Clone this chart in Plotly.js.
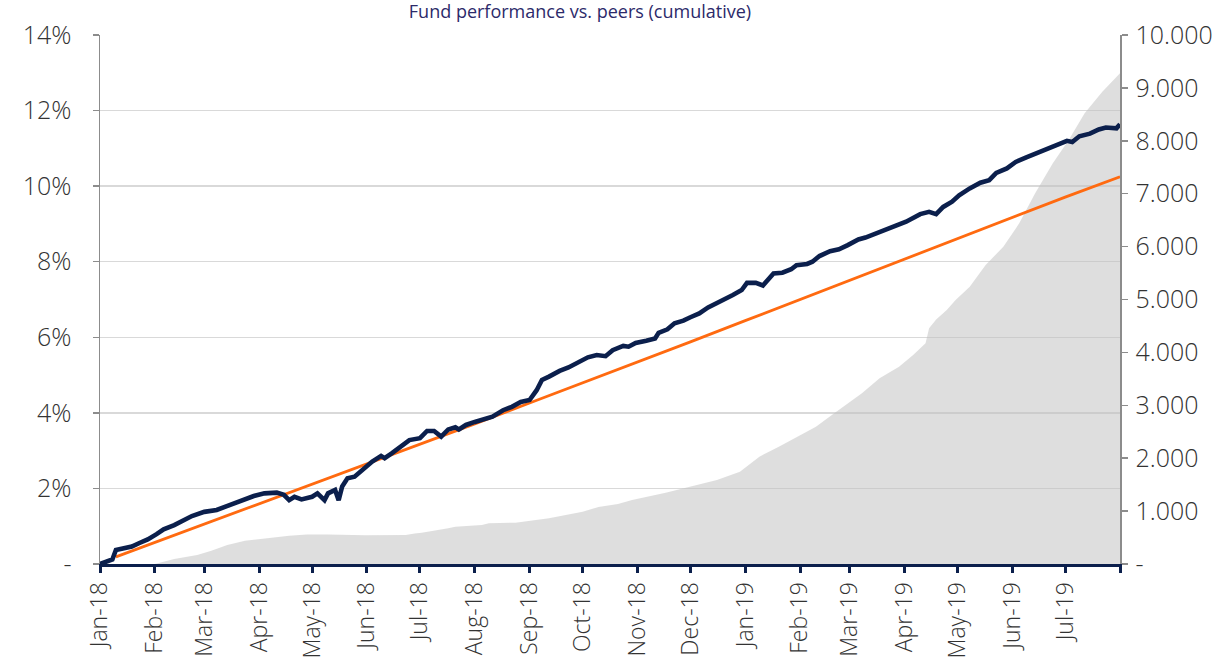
<!DOCTYPE html>
<html>
<head>
<meta charset="utf-8">
<script src="https://cdn.plot.ly/plotly-3.0.1.min.js"></script>
<style>
  html, body { margin: 0; padding: 0; background: #ffffff; }
  #chart { width: 1221px; height: 658px; }
</style>
</head>
<body>
<div id="chart"></div>
<script>
// ---- Data ----
const titleText = "Fund performance vs. peers (cumulative)";

// Grey area (right axis, count)
const areaDates = ["2018-01-01","2018-02-01","2018-02-12","2018-02-25","2018-03-05","2018-03-14","2018-03-24","2018-04-11","2018-04-18","2018-04-28","2018-05-10","2018-05-31","2018-06-23","2018-06-28","2018-07-02","2018-07-17","2018-07-21","2018-08-05","2018-08-09","2018-08-24","2018-09-06","2018-09-12","2018-10-01","2018-10-10","2018-10-21","2018-10-29","2018-11-17","2018-12-06","2018-12-16","2018-12-29","2019-01-09","2019-01-20","2019-02-01","2019-02-10","2019-02-19","2019-02-27","2019-03-08","2019-03-18","2019-03-29","2019-04-06","2019-04-13","2019-04-15","2019-04-19","2019-04-25","2019-04-30","2019-05-08","2019-05-17","2019-05-27","2019-06-05","2019-06-14","2019-06-24","2019-07-03","2019-07-12","2019-07-22","2019-08-01"];
const areaValues = [0,0,95,170,250,359,440,516,535,560,560,545,550,575,592,675,705,737,769,781,845,864,989,1078,1134,1210,1348,1506,1588,1745,2028,2217,2439,2595,2817,3006,3227,3510,3730,3951,4172,4455,4620,4802,4991,5242,5652,5998,6440,7008,7575,8015,8520,8929,9276];

// Navy line (left axis, %)
const navyDates = ["2018-01-01","2018-01-08","2018-01-10","2018-01-16","2018-01-19","2018-01-23","2018-01-28","2018-02-02","2018-02-06","2018-02-12","2018-02-18","2018-02-22","2018-03-01","2018-03-08","2018-03-13","2018-03-18","2018-03-24","2018-03-29","2018-04-04","2018-04-11","2018-04-15","2018-04-18","2018-04-21","2018-04-25","2018-05-01","2018-05-04","2018-05-08","2018-05-10","2018-05-14","2018-05-16","2018-05-18","2018-05-21","2018-05-25","2018-05-30","2018-06-04","2018-06-09","2018-06-11","2018-06-15","2018-06-21","2018-06-25","2018-07-01","2018-07-05","2018-07-09","2018-07-13","2018-07-17","2018-07-21","2018-07-23","2018-07-27","2018-08-01","2018-08-05","2018-08-11","2018-08-17","2018-08-22","2018-08-27","2018-09-01","2018-09-05","2018-09-08","2018-09-12","2018-09-18","2018-09-23","2018-09-29","2018-10-04","2018-10-09","2018-10-14","2018-10-18","2018-10-24","2018-10-27","2018-10-31","2018-11-06","2018-11-11","2018-11-13","2018-11-18","2018-11-22","2018-11-27","2018-12-01","2018-12-06","2018-12-11","2018-12-16","2018-12-20","2018-12-25","2018-12-30","2019-01-02","2019-01-07","2019-01-11","2019-01-14","2019-01-17","2019-01-22","2019-01-27","2019-01-30","2019-02-05","2019-02-08","2019-02-12","2019-02-18","2019-02-23","2019-02-28","2019-03-06","2019-03-10","2019-03-16","2019-03-18","2019-03-26","2019-04-02","2019-04-10","2019-04-15","2019-04-19","2019-04-23","2019-04-28","2019-05-02","2019-05-08","2019-05-14","2019-05-19","2019-05-23","2019-05-29","2019-06-03","2019-06-09","2019-06-15","2019-06-20","2019-06-26","2019-07-02","2019-07-05","2019-07-09","2019-07-15","2019-07-20","2019-07-24","2019-07-30","2019-08-01"];
const navyValues = [0.00,0.12,0.37,0.42,0.46,0.55,0.65,0.79,0.92,1.03,1.16,1.27,1.38,1.43,1.52,1.61,1.71,1.80,1.87,1.89,1.83,1.69,1.78,1.71,1.78,1.87,1.69,1.87,1.96,1.69,2.05,2.27,2.31,2.53,2.71,2.86,2.80,2.93,3.12,3.28,3.33,3.52,3.52,3.37,3.56,3.62,3.56,3.68,3.76,3.81,3.90,4.07,4.16,4.29,4.34,4.60,4.87,4.96,5.11,5.20,5.33,5.47,5.53,5.50,5.66,5.77,5.75,5.85,5.91,5.97,6.12,6.21,6.37,6.44,6.53,6.63,6.79,6.90,6.98,7.12,7.25,7.44,7.44,7.37,7.53,7.69,7.71,7.80,7.91,7.94,8.00,8.15,8.28,8.33,8.44,8.59,8.64,8.75,8.79,8.92,9.06,9.26,9.32,9.26,9.45,9.59,9.76,9.94,10.09,10.16,10.35,10.47,10.64,10.76,10.87,10.95,11.08,11.20,11.17,11.32,11.39,11.50,11.55,11.53,11.64];

// Orange line (left axis, %)
const orangeDates = ["2018-01-10","2018-02-01","2018-03-01","2018-04-01","2018-05-01","2018-06-01","2018-07-01","2018-08-01","2018-09-01","2018-10-01","2018-11-01","2018-12-01","2019-01-01","2019-02-01","2019-03-01","2019-04-01","2019-05-01","2019-06-01","2019-07-01","2019-08-01"];
const orangeValues = [0.19,0.57,1.05,1.59,2.11,2.65,3.17,3.71,4.26,4.79,5.34,5.88,6.44,7.00,7.51,8.07,8.61,9.17,9.71,10.25];

// Tick labels
const xTickVals = ["2018-01-01","2018-02-01","2018-03-01","2018-04-01","2018-05-01","2018-06-01","2018-07-01","2018-08-01","2018-09-01","2018-10-01","2018-11-01","2018-12-01","2019-01-01","2019-02-01","2019-03-01","2019-04-01","2019-05-01","2019-06-01","2019-07-01","2019-08-01"];
const xTickText = ["Jan-18","Feb-18","Mar-18","Apr-18","May-18","Jun-18","Jul-18","Aug-18","Sep-18","Oct-18","Nov-18","Dec-18","Jan-19","Feb-19","Mar-19","Apr-19","May-19","Jun-19","Jul-19",""];
const yLeftVals = [0,2,4,6,8,10,12,14];
const yLeftText = ["-","2%","4%","6%","8%","10%","12%","14%"];
const yRightVals = [0,1000,2000,3000,4000,5000,6000,7000,8000,9000,10000];
const yRightText = ["-","1.000","2.000","3.000","4.000","5.000","6.000","7.000","8.000","9.000","10.000"];

// ---- Chart ----
const NAVY = "#0b1f4c";
const ORANGE = "#ff6a10";
const FONT = "Open Sans";
const TXT = "#333333";

const traces = [
  {
    x: areaDates, y: areaValues, yaxis: "y", type: "scatter", mode: "lines",
    fill: "tozeroy", fillcolor: "rgba(193,193,193,0.53)", line: {width: 0, color: "rgba(0,0,0,0)"},
    hoverinfo: "skip", showlegend: false
  },
  {
    x: orangeDates, y: orangeValues, yaxis: "y2", type: "scatter", mode: "lines",
    line: {color: ORANGE, width: 2.8}, showlegend: false
  },
  {
    x: navyDates, y: navyValues, yaxis: "y2", type: "scatter", mode: "lines",
    line: {color: NAVY, width: 4.6}, showlegend: false
  }
];

const layout = {
  width: 1221, height: 658,
  margin: {l: 100, r: 101, t: 35, b: 94, pad: 0},
  paper_bgcolor: "#ffffff", plot_bgcolor: "#ffffff",
  showlegend: false,
  title: {
    text: titleText, x: 0.475, xanchor: "center",
    yref: "container", y: 1, yanchor: "top", pad: {t: 5},
    font: {family: FONT, size: 18, color: "#2c2a6a"}
  },
  xaxis: {
    type: "date", range: ["2018-01-01", "2019-08-01"],
    tickmode: "array", tickvals: xTickVals, ticktext: xTickText,
    tickangle: -90, ticks: "outside", ticklen: 6, tickwidth: 3, tickcolor: NAVY,
    showline: true, linecolor: NAVY, linewidth: 3,
    showgrid: false, zeroline: false,
    tickfont: {family: FONT, size: 23, color: TXT, weight: 300},
    ticklabelstandoff: 0
  },
  // primary: right-hand count axis (area, drawn underneath)
  yaxis: {
    side: "right",
    range: [0, 10000], tickmode: "array", tickvals: yRightVals, ticktext: yRightText,
    ticks: "outside", ticklen: 6, tickwidth: 1.5, tickcolor: "#8c8c8c",
    showline: true, linecolor: "#8c8c8c", linewidth: 1.5,
    showgrid: false, zeroline: false,
    tickfont: {family: FONT, size: 25, color: TXT, weight: 300},
    ticklabelstandoff: 3
  },
  // overlay: left-hand percentage axis (lines, drawn on top)
  yaxis2: {
    overlaying: "y", side: "left",
    range: [0, 14], tickmode: "array", tickvals: yLeftVals, ticktext: yLeftText,
    ticks: "outside", ticklen: 6, tickwidth: 1.5, tickcolor: "#8c8c8c",
    showline: true, linecolor: "#8c8c8c", linewidth: 1.5,
    showgrid: true, gridcolor: "rgba(140,140,140,0.33)", gridwidth: 1.5, zeroline: false,
    tickfont: {family: FONT, size: 25, color: TXT, weight: 300},
    ticklabelstandoff: 16
  }
};

Plotly.newPlot("chart", traces, layout, {displayModeBar: false, staticPlot: true});
</script>
</body>
</html>
